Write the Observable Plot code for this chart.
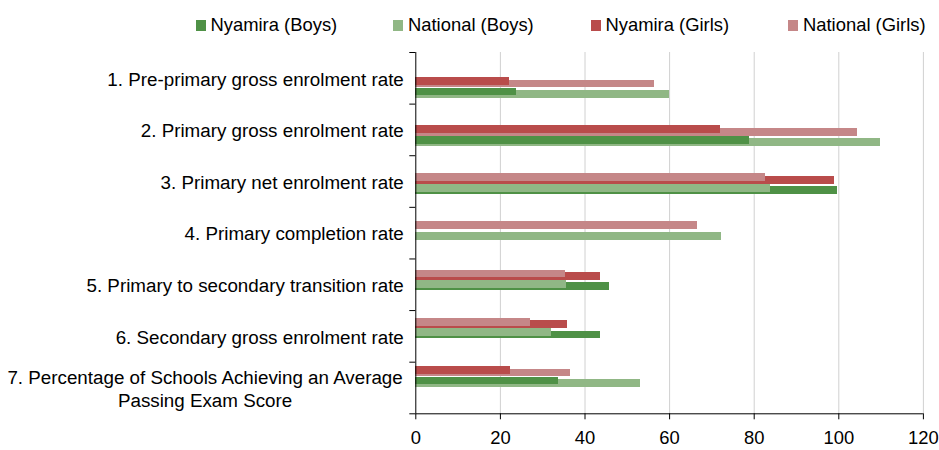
<!DOCTYPE html>
<html>
<head>
<meta charset="utf-8">
<script src="https://cdn.jsdelivr.net/npm/d3@7"></script>
<script src="https://cdn.jsdelivr.net/npm/@observablehq/plot@0.6"></script>
<style>
  html, body { margin: 0; padding: 0; background: #fff; }
  #wrap { position: relative; width: 939px; height: 450px; font-family: "Liberation Sans", Arial, sans-serif; }
  #legend { position: absolute; left: 195.5px; top: 14px; display: flex; }
  .item { width: 197.5px; display: flex; align-items: center; font-size: 18.4px; color: #000; white-space: nowrap; }
  .sw { width: 10px; height: 11px; margin-right: 5px; flex: none; }
</style>
</head>
<body>
<div id="wrap"><div id="legend"></div><div id="chart"></div></div>
<script>
// ---- data ----
const categories = [
  "1. Pre-primary gross enrolment rate",
  "2. Primary gross enrolment rate",
  "3. Primary net enrolment rate",
  "4. Primary completion rate",
  "5. Primary to secondary transition rate",
  "6. Secondary gross enrolment rate",
  "7. Percentage of Schools Achieving an Average\nPassing Exam Score"
];
const seriesNames = ["Nyamira (Boys)", "National (Boys)", "Nyamira (Girls)", "National (Girls)"];
const seriesColors = ["#4f9146", "#90b785", "#b94c4b", "#c58788"];
const nyamiraBoys   = [23.7, 78.9, 99.7, null, 45.8, 43.7, 33.7];
const nationalBoys  = [60.0, 109.9, 83.8, 72.3, 35.6, 32.0, 53.1];
const nyamiraGirls  = [22.1, 72.0, 98.9, null, 43.7, 35.8, 22.3];
const nationalGirls = [56.5, 104.4, 82.7, 66.6, 35.3, 27.0, 36.5];
const xTicks = [0, 20, 40, 60, 80, 100, 120];

// ---- layout (in category units of the y scale) ----
const firstGroupTop = 0.4845, groupStep = 0.9327;
const slotOffset = [0, 0.052, 0.207, 0.25];
const barThickness = 0.151;
const FONT = "Liberation Sans, Arial, sans-serif";
const FS = 18.4;
const LABEL_FS = 18.8;

// build rows: within each gender the smaller bar sits in the upper, front slot
const rows = [];
categories.forEach((c, i) => {
  const pairs = [
    [[nyamiraGirls[i], seriesNames[2]], [nationalGirls[i], seriesNames[3]]],
    [[nyamiraBoys[i], seriesNames[0]], [nationalBoys[i], seriesNames[1]]]
  ];
  pairs.forEach((pair, g) => {
    const present = pair.filter(p => p[0] != null).sort((a, b) => a[0] - b[0]);
    present.forEach((p, k) => {
      const slot = g * 2 + k;
      const y1 = firstGroupTop + groupStep * i + slotOffset[slot];
      rows.push({value: p[0], series: p[1], y1, y2: y1 + barThickness, front: k === 0});
    });
  });
});
rows.sort((a, b) => (a.front === b.front ? 0 : a.front ? 1 : -1));

// text measuring for label placement
const ctx = document.createElement("canvas").getContext("2d");
ctx.font = `${LABEL_FS}px ${FONT}`;
const labelMarks = categories.map((c, i) => {
  const w = d3.max(c.split("\n"), l => ctx.measureText(l).width);
  return Plot.text([c], {
    y: () => i + 0.5, text: d => d, frameAnchor: "left",
    dx: -(12 + w / 2), textAnchor: "middle", lineAnchor: "middle",
    lineHeight: 1.22, fontSize: LABEL_FS, fill: "#000"
  });
});

const chart = Plot.plot({
  width: 939, height: 450,
  marginTop: 52, marginBottom: 36.7, marginLeft: 415.3, marginRight: 16.1,
  style: {fontFamily: FONT, background: "#fff", color: "#000"},
  x: {domain: [0, 120], axis: null},
  y: {type: "linear", domain: [0, 7], reverse: true, axis: null},
  color: {domain: seriesNames, range: seriesColors},
  marks: [
    Plot.gridX(xTicks.filter(d => d > 0), {stroke: "#d0d0d0", strokeOpacity: 1}),
    Plot.rect(rows, {x1: () => 0, x2: "value", y1: "y1", y2: "y2", fill: "series", shapeRendering: "crispEdges"}),
    Plot.axisX({ticks: xTicks, tickSize: 6, tickPadding: 11, fontSize: FS, label: null, stroke: "#000"}),
    Plot.axisY({ticks: d3.range(8), tickSize: 6, tickFormat: () => "", label: null, stroke: "#000"}),
    Plot.ruleX([0], {stroke: "#000"}),
    Plot.ruleY([7], {stroke: "#000"}),
    ...labelMarks
  ]
});
document.getElementById("chart").appendChild(chart);

// legend
const legend = document.getElementById("legend");
seriesNames.forEach((s, k) => {
  const it = document.createElement("div");
  it.className = "item";
  const sw = document.createElement("span");
  sw.className = "sw";
  sw.style.background = seriesColors[k];
  it.appendChild(sw);
  it.appendChild(document.createTextNode(s));
  legend.appendChild(it);
});
</script>
</body>
</html>
